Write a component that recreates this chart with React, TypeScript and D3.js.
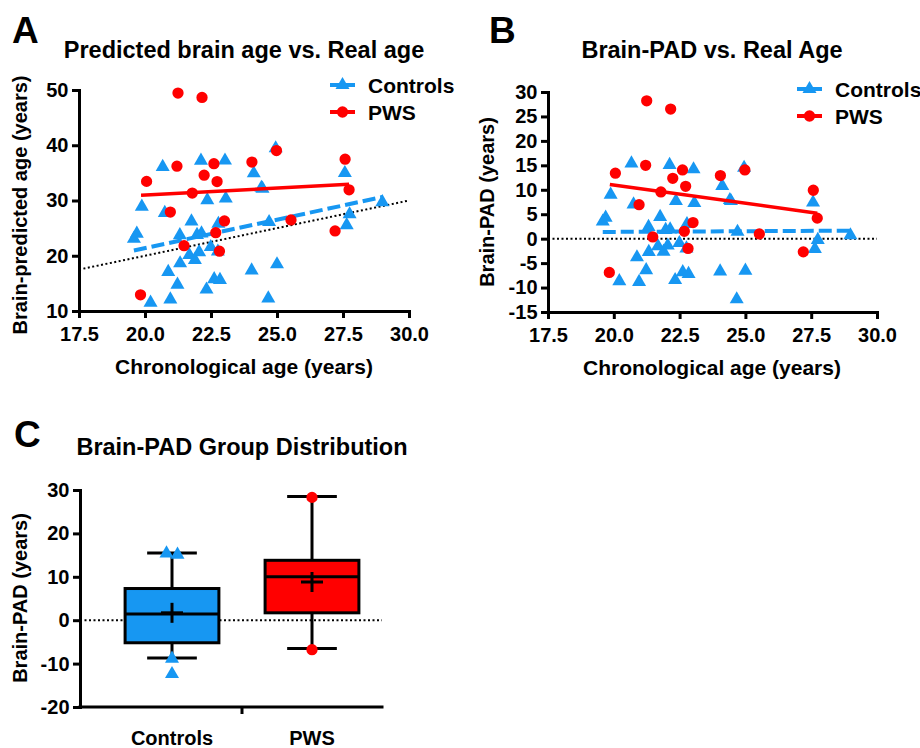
import React, { useEffect, useRef } from 'react';
import * as d3 from 'd3';

// ---------- data ----------
const ctrlAge = [19.58, 19.69, 19.88, 20.67, 20.75, 20.21, 20.96, 20.88, 21.23, 21.33, 21.32, 21.76, 21.68, 21.89, 21.97, 22.14, 22.05, 22.12, 22.36, 22.33, 22.49, 22.62, 22.84, 22.78, 22.76, 23.03, 23.06, 24.12, 24.41, 24.45, 24.04, 24.67, 24.7, 24.95, 25.0, 27.57, 27.64, 27.75, 28.99];
const ctrlPAD = [3.5, 4.3, 9.0, 15.4, 7.0, -8.7, -8.85, -3.8, -6.45, -2.7, 2.4, 4.45, -1.55, -2.65, 1.8, 1.9, -1.4, 15.1, 7.7, -8.45, -0.9, -6.85, -7.2, 3.0, -2.0, 14.2, 7.3, 10.8, 7.9, 7.7, -6.7, -12.4, 1.4, 14.5, -6.55, 7.4, -2.1, -0.25, 0.7];
const pwsAge = [21.25, 22.16, 20.06, 21.21, 22.61, 22.24, 22.73, 21.79, 24.05, 20.96, 23.01, 22.68, 21.48, 22.82, 19.83, 24.98, 27.58, 27.73, 25.53, 27.2];
const pwsPAD = [28.2, 26.5, 13.4, 15.0, 14.05, 12.35, 10.7, 9.55, 12.9, 6.95, 3.3, 1.5, 0.35, -2.0, -6.9, 14.05, 9.9, 4.2, 0.96, -2.7];

// fitted lines (end points)
const ctrlFitAge = [19.58, 28.99];
const ctrlFitPAD = [1.37, 1.64];
const pwsFitAge = [19.85, 27.73];
const pwsFitPAD = [11.1, 5.2];
const identityRange = [17.5, 30];

// ticks
const xTicks = [17.5, 20, 22.5, 25, 27.5, 30];
const aYTicks = [10, 20, 30, 40, 50];
const bYTicks = [-15, -10, -5, 0, 5, 10, 15, 20, 25, 30];
const cYTicks = [-20, -10, 0, 10, 20, 30];

// box plot summary
const boxGroups = ['Controls', 'PWS'];
const boxWhiskerLow = [-8.7, -6.5];
const boxQ1 = [-5.2, 1.7];
const boxMedian = [1.4, 10.0];
const boxQ3 = [7.3, 13.8];
const boxWhiskerHigh = [15.5, 28.5];
const boxMean = [1.7, 8.8];
const ctrlBoxPoints = [15.4, 15.1, -8.85, -12.4];
const pwsBoxPoints = [28.3, -6.8];

const BLUE = '#1797f2';
const RED = '#ff0000';
const FONT = "'Liberation Sans', Arial, Helvetica, sans-serif";

export default function App() {
  const ref = useRef<SVGSVGElement>(null);

  useEffect(() => {
    const svg = d3.select(ref.current);
    svg.selectAll('*').remove();

    const tri = d3.symbol().type(d3.symbolTriangle).size(85);
    const circ = d3.symbol().type(d3.symbolCircle).size(100);

    const styleAxis = (g: any) => {
      g.select('.domain').attr('stroke', '#000').attr('stroke-width', 3).attr('stroke-linecap', 'square');
      g.selectAll('.tick line').attr('stroke', '#000').attr('stroke-width', 3);
      g.selectAll('.tick text')
        .attr('font-family', FONT)
        .attr('font-weight', 'bold')
        .attr('font-size', 20)
        .attr('fill', '#000');
    };

    const text = (x: number, y: number, s: string, size: number, anchor = 'middle', rotate = false) => {
      const t = svg
        .append('text')
        .attr('font-family', FONT)
        .attr('font-weight', 'bold')
        .attr('font-size', size)
        .attr('fill', '#000')
        .attr('text-anchor', anchor)
        .text(s);
      if (rotate) t.attr('transform', `translate(${x},${y}) rotate(-90)`);
      else t.attr('x', x).attr('y', y);
      return t;
    };

    const legend = (x0: number, y0: number, x1: number, tx: number, dy: number) => {
      const items = [
        { name: 'Controls', color: BLUE, sym: tri },
        { name: 'PWS', color: RED, sym: circ },
      ];
      items.forEach((it, i) => {
        const y = y0 + i * dy;
        svg.append('line').attr('x1', x0).attr('x2', x1).attr('y1', y).attr('y2', y)
          .attr('stroke', it.color).attr('stroke-width', 4);
        svg.append('path').attr('d', it.sym()).attr('transform', `translate(${(x0 + x1) / 2},${y})`).attr('fill', it.color);
        text(tx, y + 8, it.name, 21, 'start');
      });
    };

    const scatter = (
      xs: any, ys: any, yOf: (age: number, pad: number) => number,
      xTickVals: number[], yTickVals: number[], identity: boolean
    ) => {
      const [ya, yb] = ys.range();
      const [xa, xb] = xs.range();
      // reference line
      if (identity) {
        svg.append('line')
          .attr('x1', xs(identityRange[0])).attr('y1', ys(identityRange[0]))
          .attr('x2', xs(identityRange[1])).attr('y2', ys(identityRange[1]))
          .attr('stroke', '#000').attr('stroke-width', 2).attr('stroke-dasharray', '2 2.5');
      } else {
        svg.append('line')
          .attr('x1', xa).attr('x2', xb).attr('y1', ys(0)).attr('y2', ys(0))
          .attr('stroke', '#000').attr('stroke-width', 2).attr('stroke-dasharray', '2 2.5');
      }
      // control points
      svg.append('g').selectAll('path').data(ctrlAge.map((a, i) => [a, ctrlPAD[i]])).join('path')
        .attr('d', tri()).attr('fill', BLUE)
        .attr('transform', (d: number[]) => `translate(${xs(d[0])},${ys(yOf(d[0], d[1]))})`);
      // control fit
      svg.append('line')
        .attr('x1', xs(ctrlFitAge[0])).attr('y1', ys(yOf(ctrlFitAge[0], ctrlFitPAD[0])))
        .attr('x2', xs(ctrlFitAge[1])).attr('y2', ys(yOf(ctrlFitAge[1], ctrlFitPAD[1])))
        .attr('stroke', BLUE).attr('stroke-width', 4).attr('stroke-dasharray', '13 5');
      // pws points
      svg.append('g').selectAll('path').data(pwsAge.map((a, i) => [a, pwsPAD[i]])).join('path')
        .attr('d', circ()).attr('fill', RED)
        .attr('transform', (d: number[]) => `translate(${xs(d[0])},${ys(yOf(d[0], d[1]))})`);
      svg.append('line')
        .attr('x1', xs(pwsFitAge[0])).attr('y1', ys(yOf(pwsFitAge[0], pwsFitPAD[0])))
        .attr('x2', xs(pwsFitAge[1])).attr('y2', ys(yOf(pwsFitAge[1], pwsFitPAD[1])))
        .attr('stroke', RED).attr('stroke-width', 3.5);

      // axes
      svg.append('g').attr('transform', `translate(0,${ya})`)
        .call(d3.axisBottom(xs).tickValues(xTickVals).tickFormat(d3.format('.1f') as any)
          .tickSize(7).tickSizeOuter(0).tickPadding(9))
        .call(styleAxis);
      svg.append('g').attr('transform', `translate(${xa},0)`)
        .call(d3.axisLeft(ys).tickValues(yTickVals).tickFormat((d: any) => String(d))
          .tickSize(7).tickSizeOuter(0).tickPadding(3.5))
        .call(styleAxis);
    };

    // ---------- Panel A ----------
    const xA = d3.scaleLinear().domain([17.5, 30]).range([79, 409]);
    const yA = d3.scaleLinear().domain([10, 50]).range([311, 90]);
    scatter(xA, yA, (a, p) => a + p, xTicks, aYTicks, true);
    text(12, 43, 'A', 37, 'start');
    text(244, 58, 'Predicted brain age vs. Real age', 23.5);
    text(244, 374, 'Chronological age (years)', 21);
    text(27, 205, 'Brain-predicted age (years)', 20, 'middle', true);
    legend(330, 85, 355, 368, 27);

    // ---------- Panel B ----------
    const xB = d3.scaleLinear().domain([17.5, 30]).range([548, 877]);
    const yB = d3.scaleLinear().domain([-15, 30]).range([312, 92]);
    scatter(xB, yB, (a, p) => p, xTicks, bYTicks, false);
    text(489, 43, 'B', 37, 'start');
    text(712, 58, 'Brain-PAD vs. Real Age', 23.5);
    text(712, 375, 'Chronological age (years)', 21);
    text(494, 202, 'Brain-PAD (years)', 20, 'middle', true);
    legend(797, 89, 822, 835, 27);

    // ---------- Panel C ----------
    const xC = d3.scaleBand().domain(boxGroups).range([102, 382]).padding(0);
    const yC = d3.scaleLinear().domain([-20, 30]).range([707, 490]);
    const axisX0 = 80;
    text(14, 447, 'C', 37, 'start');
    text(242, 455, 'Brain-PAD Group Distribution', 23.5);
    text(27, 598, 'Brain-PAD (years)', 20, 'middle', true);

    svg.append('line').attr('x1', axisX0).attr('x2', xC.range()[1]).attr('y1', yC(0)).attr('y2', yC(0))
      .attr('stroke', '#000').attr('stroke-width', 2).attr('stroke-dasharray', '2 2.5');

    const bw = xC.bandwidth() * 0.67;
    const capW = xC.bandwidth() * 0.355;
    boxGroups.forEach((g, i) => {
      const cx = (xC(g) as number) + xC.bandwidth() / 2;
      const color = i === 0 ? BLUE : RED;
      // whisker
      svg.append('line').attr('x1', cx).attr('x2', cx).attr('y1', yC(boxWhiskerLow[i])).attr('y2', yC(boxWhiskerHigh[i]))
        .attr('stroke', '#000').attr('stroke-width', 3);
      [boxWhiskerLow[i], boxWhiskerHigh[i]].forEach((v) => {
        svg.append('line').attr('x1', cx - capW / 2).attr('x2', cx + capW / 2).attr('y1', yC(v)).attr('y2', yC(v))
          .attr('stroke', '#000').attr('stroke-width', 3);
      });
      svg.append('rect').attr('x', cx - bw / 2).attr('width', bw)
        .attr('y', yC(boxQ3[i])).attr('height', yC(boxQ1[i]) - yC(boxQ3[i]))
        .attr('fill', color).attr('stroke', '#000').attr('stroke-width', 3);
      svg.append('line').attr('x1', cx - bw / 2).attr('x2', cx + bw / 2).attr('y1', yC(boxMedian[i])).attr('y2', yC(boxMedian[i]))
        .attr('stroke', '#000').attr('stroke-width', 3);
      // mean cross
      svg.append('line').attr('x1', cx - 11).attr('x2', cx + 11).attr('y1', yC(boxMean[i])).attr('y2', yC(boxMean[i]))
        .attr('stroke', '#000').attr('stroke-width', 3);
      svg.append('line').attr('x1', cx).attr('x2', cx).attr('y1', yC(boxMean[i]) - 10).attr('y2', yC(boxMean[i]) + 10)
        .attr('stroke', '#000').attr('stroke-width', 3);
      // points
      const pts = i === 0 ? ctrlBoxPoints : pwsBoxPoints;
      const sym = i === 0 ? tri : circ;
      pts.forEach((v, k) => {
        const close = pts.findIndex((w, j) => j !== k && Math.abs(w - v) < 1.5);
        const off = close < 0 ? 0 : (k < close ? -5.5 : 5.5);
        svg.append('path').attr('d', sym()).attr('fill', color)
          .attr('transform', `translate(${cx + off},${yC(v)})`);
      });
    });

    svg.append('g').attr('transform', `translate(${axisX0},0)`)
      .call(d3.axisLeft(yC).tickValues(cYTicks).tickFormat((d: any) => String(d))
        .tickSize(7).tickSizeOuter(0).tickPadding(3.5))
      .call(styleAxis);
    // category axis
    svg.append('line').attr('x1', axisX0).attr('x2', xC.range()[1]).attr('y1', yC(-20)).attr('y2', yC(-20))
      .attr('stroke', '#000').attr('stroke-width', 3).attr('stroke-linecap', 'square');
    svg.append('line').attr('x1', xC('PWS') as number).attr('x2', xC('PWS') as number)
      .attr('y1', yC(-20)).attr('y2', yC(-20) + 7).attr('stroke', '#000').attr('stroke-width', 3);
    boxGroups.forEach((g) => {
      text((xC(g) as number) + xC.bandwidth() / 2, 745, g, 20);
    });
  }, []);

  return (
    <svg
      ref={ref}
      width={920}
      height={748}
      style={{ position: 'absolute', left: 0, top: 0, background: '#fff' }}
    />
  );
}
